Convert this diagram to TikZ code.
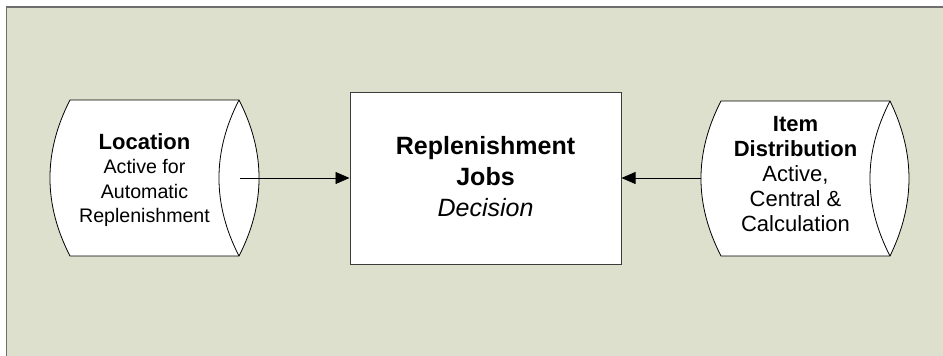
\documentclass[tikz,border=0pt]{standalone}
\usepackage{fontspec}
\setmainfont{Liberation Sans}
\usetikzlibrary{arrows.meta}
\definecolor{bgfill}{RGB}{221,224,204}
\definecolor{bgedge}{RGB}{110,110,110}
\definecolor{boxedge}{RGB}{60,60,60}
\tikzset{
  drumshape/.style={draw=black, fill=white, line width=0.8pt},
  drumtext/.style={align=center, inner sep=0pt},
  jobbox/.style={draw=boxedge, fill=white, line width=1pt, align=center, minimum width=271pt, minimum height=172pt, inner sep=0pt},
  conn/.style={draw=black, line width=0.8pt, -{Triangle[length=14pt,width=12pt]}}
}
\begin{document}
\begin{tikzpicture}[x=1pt,y=-1pt]
\useasboundingbox (0,0) rectangle (943,356);
% background panel
\fill[bgfill] (6.5,7) rectangle (960,370);
\draw[bgedge, line width=1.6pt] (6.5,370) -- (6.5,7) -- (960,7);
% left drum
\draw[drumshape] (70,100) -- (239,100) .. controls (265.7,152) and (265.7,204) .. (239,256) -- (70,256) .. controls (43.3,204) and (43.3,152) .. (70,100) -- cycle;
\draw[drumshape, fill=none] (239,100) .. controls (212.3,152) and (212.3,204) .. (239,256);
% right drum
\draw[drumshape] (721,101) -- (890,101) .. controls (915.3,153) and (915.3,204) .. (890,256) -- (721,256) .. controls (694.3,204) and (694.3,153) .. (721,101) -- cycle;
\draw[drumshape, fill=none] (890,101) .. controls (863.3,153) and (863.3,204) .. (890,256);
% texts
\node[drumtext, font=\fontsize{19.6}{24.5}\selectfont] (loc) at (144.5,180) {{\fontsize{22}{24.5}\selectfont\bfseries Location}\\Active for\\Automatic\\Replenishment};
\node[jobbox] (job) at (485.5,178) {};
\node[drumtext, font=\fontsize{25}{31}\selectfont] (jobtext) at (485.5,177) {\bfseries Replenishment\\\bfseries Jobs\\\itshape Decision};
\node[drumtext, font=\fontsize{22}{25}\selectfont] (item) at (795.5,174.5) {\bfseries Item\\\bfseries Distribution\\Active,\\Central \&\\Calculation};
% connectors
\coordinate (locout) at (240,178);
\coordinate (itemout) at (701,178);
\draw[conn] (locout) -- (job.west);
\draw[conn] (itemout) -- (job.east);
\end{tikzpicture}
\end{document}
